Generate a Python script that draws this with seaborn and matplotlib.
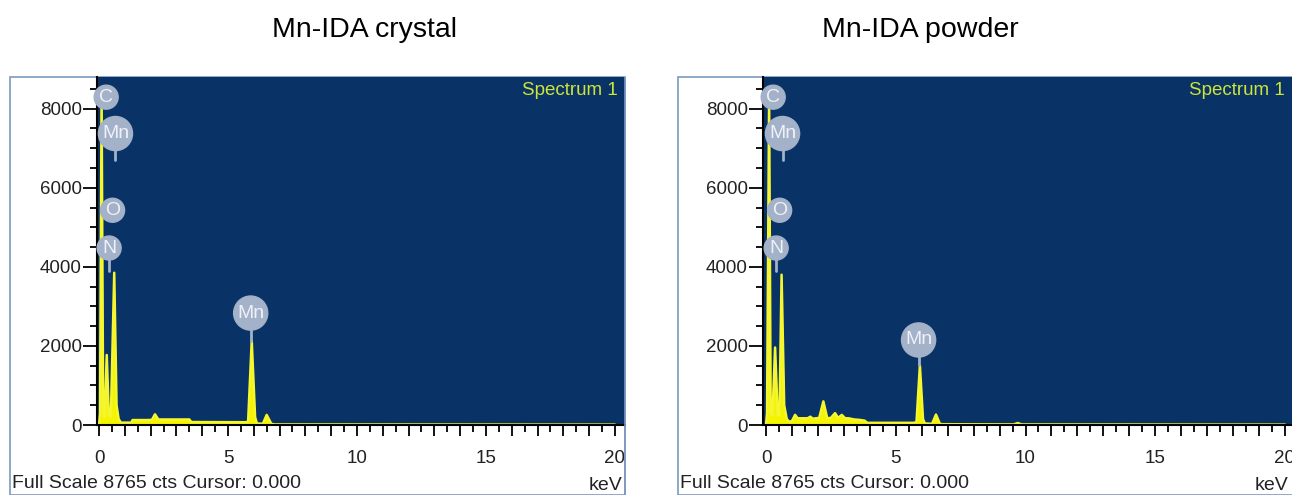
import numpy as np
import pandas as pd
import matplotlib
matplotlib.use("Agg")
import matplotlib.pyplot as plt
import seaborn as sns
from matplotlib.patches import Rectangle
from matplotlib.ticker import MultipleLocator, FuncFormatter

# EDS spectrum vertices (energy keV, counts)
crystal_kev = [0.00, 0.04, 0.10, 0.16, 0.22, 0.30, 0.38, 0.46, 0.59, 0.68, 0.76, 0.85,
               1.25, 1.30, 1.85, 2.05, 2.17, 2.30, 2.40, 3.50, 3.58, 5.70, 5.78, 5.92,
               6.05, 6.12, 6.35, 6.50, 6.68, 6.80, 20.0]
crystal_cts = [0, 300, 8300, 350, 200, 1770, 250, 200, 3850, 500, 150, 60,
               60, 125, 125, 130, 270, 140, 140, 140, 75, 70, 90, 2130,
               200, 40, 30, 255, 30, 15, 10]

powder_kev = [0.00, 0.04, 0.12, 0.18, 0.25, 0.35, 0.45, 0.52, 0.60, 0.70, 0.80, 0.90,
              1.00, 1.12, 1.22, 1.60, 1.71, 1.80, 2.05, 2.21, 2.36, 2.50, 2.66, 2.78,
              2.92, 3.05, 3.18, 3.40, 3.62, 3.80, 3.90, 5.72, 5.80, 5.93, 6.05, 6.12,
              6.40, 6.55, 6.70, 6.80, 9.55, 9.70, 9.85, 20.0]
powder_cts = [0, 300, 8300, 300, 250, 1960, 250, 250, 3800, 500, 150, 80,
              100, 256, 170, 170, 210, 160, 180, 597, 170, 180, 300, 180,
              256, 170, 170, 140, 128, 110, 55, 55, 80, 1510, 150, 40,
              30, 264, 30, 20, 15, 50, 15, 10]

# element markers: text, energy, badge height per sample, stem end
elem_text = ["C", "Mn", "O", "N", "Mn"]
elem_kev = [0.277, 0.637, 0.525, 0.392, 5.88]
elem_y_crystal = [8290, 7370, 5430, 4475, 2830]
elem_y_powder = [8290, 7370, 5430, 4475, 2150]
stem_crystal = [8100, 6700, 5300, 3900, 2130]
stem_powder = [8100, 6700, 5300, 3900, 1510]

titles = ["Mn-IDA crystal", "Mn-IDA powder"]

sns.set_style("ticks")
plt.rcParams["font.family"] = ["Liberation Sans", "DejaVu Sans"]

BG = "#093366"
YEL = "#f4f400"
BADGE = "#a3b1c9"
FRAME = "#7d99c0"

W, H = 1292, 495
fig = plt.figure(figsize=(W / 100, H / 100), dpi=100)


def fx(px):
    return px / W


def fy(py):
    return 1 - py / H


panels = [
    dict(box=(10, 625), ax=(97, 625), xlim=(-0.078, 20.39), title_x=365,
         kev=crystal_kev, cts=crystal_cts, ey=elem_y_crystal, stem=stem_crystal),
    dict(box=(678, 1300), ax=(763, 1292), xlim=(-0.116, 20.27), title_x=920,
         kev=powder_kev, cts=powder_cts, ey=elem_y_powder, stem=stem_powder),
]

for i, p in enumerate(panels):
    b0, b1 = p["box"]
    # white frame of the instrument window
    fig.patches.append(Rectangle((fx(b0), 0), fx(b1 - b0), fy(77), transform=fig.transFigure,
                                 facecolor="white", edgecolor=FRAME, lw=1.2, zorder=-1))

    a0, a1 = p["ax"]
    ax = fig.add_axes([fx(a0), fy(425), fx(a1 - a0), (425 - 77) / H])
    ax.set_facecolor(BG)

    df = pd.DataFrame({"keV": p["kev"], "counts": p["cts"]})
    ax.fill_between(df["keV"], 0, df["counts"], color=YEL, lw=0, zorder=2)
    sns.lineplot(data=df, x="keV", y="counts", ax=ax, color="#f6f630", lw=1.8, zorder=3)

    ax.set_xlim(*p["xlim"])
    ax.set_ylim(0, 8800)
    ax.set_xlabel("")
    ax.set_ylabel("")

    for sp in ["top", "right"]:
        ax.spines[sp].set_visible(False)
    for sp in ["left", "bottom"]:
        ax.spines[sp].set_color("black")
        ax.spines[sp].set_linewidth(1.5)
        ax.spines[sp].set_zorder(4)

    ax.xaxis.set_major_locator(MultipleLocator(1))
    ax.xaxis.set_minor_locator(MultipleLocator(0.5))
    ax.xaxis.set_major_formatter(FuncFormatter(lambda v, pos: f"{v:.0f}" if round(v) % 5 == 0 else ""))
    ax.yaxis.set_major_locator(MultipleLocator(2000))
    ax.yaxis.set_minor_locator(MultipleLocator(500))
    ax.tick_params(axis="x", which="major", length=8, width=1.3, color="black",
                   labelsize=13.5, pad=10, labelcolor="#222222")
    ax.tick_params(axis="x", which="minor", length=5, width=1.3, color="black")
    ax.tick_params(axis="y", which="major", length=10, width=1.3, color="black",
                   labelsize=13.5, pad=1, labelcolor="#222222")
    ax.tick_params(axis="y", which="minor", length=5, width=1.3, color="black")

    # element badges
    for t, e, yv, ys in zip(elem_text, elem_kev, p["ey"], p["stem"]):
        ax.plot([e, e], [ys, yv], color=BADGE, lw=2, zorder=5, clip_on=False)
        ax.text(e, yv, t, ha="center", va="center", fontsize=14, color="#eef2f8",
                zorder=6, clip_on=False,
                bbox=dict(boxstyle="circle,pad=0.18", fc=BADGE, ec=BADGE))

    ax.text(0.987, 0.985, "Spectrum 1", transform=ax.transAxes, ha="right", va="top",
            fontsize=13.5, color="#cde43a")

    fig.text(fx(b0 + 2), fy(484), "Full Scale 8765 cts Cursor: 0.000", ha="left",
             va="center", fontsize=14, color="#222222")
    fig.text(fx(a0 + 525), fy(485), "keV", ha="right", va="center", fontsize=14,
             color="#222222")

    fig.text(fx(p["title_x"]), fy(30), titles[i], ha="center", va="center",
             fontsize=20.5, color="black")

# gap between the two windows hides the overflowing "20"
fig.patches.append(Rectangle((fx(626), 0), fx(51), fy(77), transform=fig.transFigure,
                             facecolor="white", edgecolor="none", zorder=10))
fig.patches.append(Rectangle((fx(625), 0), 0.0001, fy(77), transform=fig.transFigure,
                             facecolor="none", edgecolor=FRAME, lw=1.2, zorder=11))

fig.savefig("out.png", dpi=100, facecolor="white")
